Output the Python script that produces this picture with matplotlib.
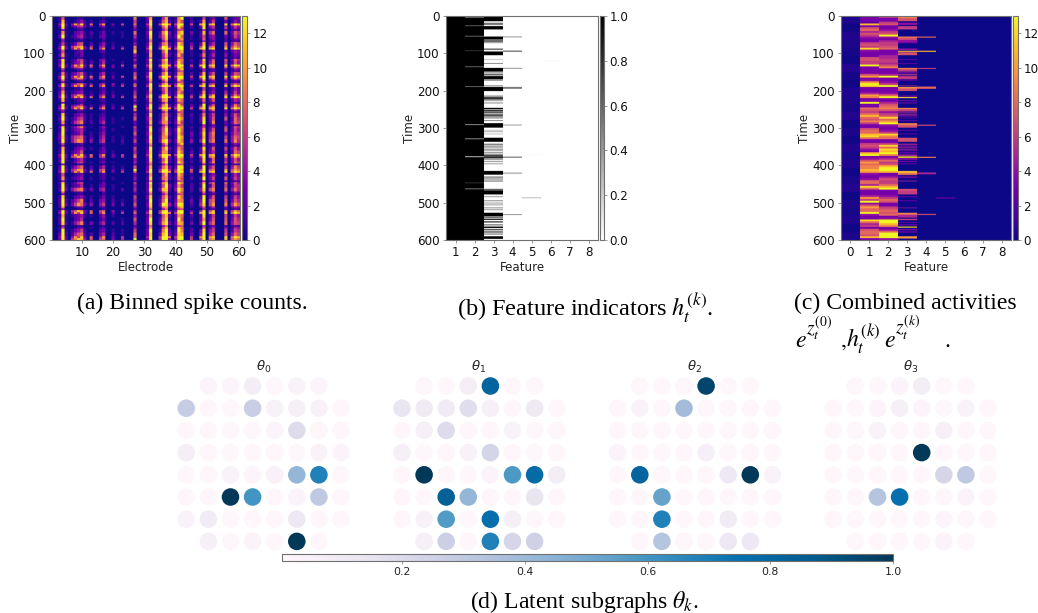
import matplotlib
matplotlib.use("Agg")
import matplotlib.pyplot as plt
import numpy as np
from matplotlib.cm import ScalarMappable
from matplotlib.colors import Normalize

W, H = 1038, 613
plt.rcParams['font.family'] = ['DejaVu Sans']
plt.rcParams['mathtext.fontset'] = 'dejavusans'

# ---------- panel (a): binned spike counts, 10 time-unit rows, base-14 digits
active_electrodes = [3,4,5, 7,8,9,10,11, 13, 16,17, 20, 23, 27, 31,32, 35,36,37,38,
                     40,41,42, 45, 48,49, 51,52, 56, 58,59,60]
spike_rows = [
 "170 00110 0 01 0 0 9 3a 05a1 19d 1 06 13 7 123",
 "1b1 01241 1 12 0 0 6 2c 17b2 2a7 2 2a 26 3 142",
 "2d2 23562 3 24 1 1 5 3b 18c3 3d9 2 3c 46 5 364",
 "1c1 01231 0 01 0 0 4 2a 06a1 2b6 1 2d 35 6 253",
 "1a1 02341 2 13 1 1 8 3d 29d3 2ac 3 2b 58 8 375",
 "2d1 12451 1 23 0 1 5 2c 37c2 3d8 1 27 34 3 264",
 "050 01120 0 02 0 0 3 1a 06b1 18a 1 18 24 2 132",
 "161 13670 2 24 1 0 4 2b 28a2 2c9 3 3b 35 7 486",
 "3d3 58ab3 6 45 2 3 9 3d 4dc4 4dd 5 6d 79 9 6a7",
 "170 01230 0 12 0 0 b 2a 07c1 19b 1 06 13 2 243",
 "2a1 01130 0 01 0 0 4 1b 05a2 2b6 1 29 25 4 132",
 "3d1 12561 1 34 1 0 5 3d 29d1 2a9 2 2c 37 7 385",
 "2c1 13471 2 25 0 1 3 2b 18b2 3c8 1 3a 48 6 274",
 "2d2 36792 5 36 3 2 6 3c 3ac3 3da 3 4d 69 8 486",
 "060 01230 0 12 0 0 2 1a 06a1 18c 1 15 12 2 143",
 "192 23572 1 35 1 0 6 3d 18c2 2a9 2 3b 47 6 376",
 "3d2 46993 5 57 2 1 8 3c 4bd3 3dc 3 5d 6a 8 5a7",
 "181 01230 0 01 0 0 3 2a 06b1 2b6 1 29 24 3 132",
 "2c2 35794 4 46 4 4 7 3d 39c3 4c9 2 4b 57 7 586",
 "160 01130 0 12 0 0 3 1c 16a1 18b 1 06 13 2 142",
 "2a1 12340 1 13 1 0 5 2a 05a2 2a7 1 2a 24 5 263",
 "3d2 46a92 3 46 3 2 6 4d 3cd3 3dc 4 5d 6b 9 496",
 "1b1 01231 0 12 0 0 4 2b 29b1 2a8 1 28 37 4 254",
 "1d1 12350 1 13 1 0 5 2c 28c2 3c6 2 2d 26 7 385",
 "3c2 46893 2 36 2 3 d 3d 3ac3 4da 3 5c 69 8 4a6",
 "250 01230 0 12 0 0 9 2a 08b1 2c8 1 27 48 3 253",
 "1c1 02341 1 12 0 0 5 2c 17a2 1a7 2 29 36 4 374",
 "2d2 13562 1 23 1 1 7 3a 18c1 2d9 1 3c 37 7 285",
 "1a1 25791 2 35 1 0 3 2b 39a2 3b6 1 2d 29 3 386",
 "2c1 24692 1 24 0 1 6 3c 16b1 1a9 2 26 24 6 275",
 "1d2 13451 0 13 1 0 5 2d 27d2 3d8 1 2a 37 7 264",
 "2d1 12350 1 24 0 0 7 3b 18c3 2c7 3 3c 59 3 365",
 "3c2 46782 2 35 1 1 4 2d 29a1 2da 2 2b 58 6 486",
 "2d2 47a92 4 46 1 2 6 3c 3bd3 3c9 4 4d 69 8 495",
 "170 01130 0 12 0 1 3 1a 06b1 18c 1 08 13 3 143",
 "1b1 02341 1 13 0 0 6 2d 18c2 2a7 1 2c 27 6 374",
 "1c1 13470 0 23 1 0 5 3c 29a1 2c8 2 2a 35 4 286",
 "3d3 68ba4 7 57 3 5 9 3d 4cd3 3db 4 5d 8a 9 5b8",
 "2d2 02451 0 12 0 0 4 2c 17c2 2a8 1 3c 28 5 374",
 "2d1 13561 1 23 1 0 5 3a 29d2 2d9 2 2b 49 7 386",
 "2d2 24681 2 35 1 1 7 3b 28b3 3dc 2 3d 47 6 496",
 "3d3 57ba3 4 68 3 4 d 3d 5cd5 5db 7 6d 79 a 7a8",
 "170 01230 0 12 0 0 3 1a 07b2 1b8 1 09 24 3 253",
 "1a1 12340 1 12 1 0 4 2c 18a2 2a7 2 2d 36 7 264",
 "2c1 13560 0 13 0 1 6 3d 29c1 2d9 1 3b 58 8 374",
 "1d2 12350 1 23 1 0 4 2b 17d3 3a6 2 2d 27 6 265",
 "2d3 46892 3 45 1 2 5 3d 3bc2 4d9 2 4c 69 8 485",
 "080 01120 0 02 0 0 3 2a 06a1 1b7 1 18 14 3 142",
 "1c1 02341 1 13 1 0 6 3c 17b2 2c8 1 2d 37 6 264",
 "2d2 24691 2 34 2 1 5 2d 28d1 3a9 3 4d 68 7 375",
 "2d3 36a83 4 46 3 3 7 3c 3dc4 4dc 2 5c 6a 9 5a7",
 "1a0 01230 0 12 0 0 4 2b 18a1 29b 1 27 25 3 243",
 "3d3 58ca3 7 68 4 3 6 3d 5cd3 3dd 3 5d 7b a 6b8",
 "1b1 12341 1 24 1 0 4 2a 17b2 2a8 2 2c 26 6 264",
 "2d1 02350 0 13 0 1 7 3d 28c1 2d7 1 3a 37 7 375",
 "2c2 14691 3 35 2 2 5 3c 3ad3 3ba 3 4d 58 8 476",
 "170 01230 1 12 0 0 4 2a 07b1 1c8 1 08 25 4 154",
 "1d1 13461 0 23 1 1 6 3d 19d2 2d9 2 3c 46 6 265",
 "3d2 25782 2 35 2 1 8 3c 3bd3 3cb 3 4d 58 7 486",
 "3d3 69cb4 7 68 3 5 d 3d 5dd4 4dd 6 6d 8a b 7a8",
]
burst_times = [20, 85, 130, 160, 185, 215, 245, 370, 415, 525, 590]
burst_pattern = "4d3 4a6c3 8 5a 3 6 8 5d 6dd9 6dd 6 ad ac c 8db"
quiet_times = [35, 65, 110, 145, 175, 230, 255, 290, 345, 395, 440, 475, 515, 560]
quiet_pattern = "040 00110 0 01 0 0 2 18 0480 167 0 05 12 2 121"

# ---------- panel (b): feature indicators as (start, end, value) on white
feature_1_on = [(0, 600, 1.0)]
feature_2_gaps = [(1, 4, .25), (25, 27, .55), (53, 55, .5), (92, 94, .75), (135, 137, .5),
                  (188, 190, .5), (290, 292, .3), (328, 330, .3), (376, 378, .05),
                  (446, 448, .75), (462, 464, .4)]
feature_3_on = [(2,14,1),(18,24,.55),(27,36,1),(55,63,1),(64,70,.6),(70,73,.3),(87,91,.6),
                (95,105,1),(115,118,.2),(126,128,.6),(139,149,1),(151,154,.5),(156,159,.8),
                (161,169,1),(170,173,.6),(186,188,.6),(190,201,1),(213,216,.5),(217,224,.8),
                (226,228,.5),(232,234,.6),(246,250,1),(252,256,.9),(258,260,1),(262,264,1),
                (266,269,1),(272,274,.8),(279,281,.6),(287,299,1),(305,307,.3),(309,311,.4),
                (315,317,.3),(326,337,1),(342,345,.6),(347,350,.5),(352,354,.5),(356,358,.6),
                (360,362,.5),(365,368,.5),(371,375,.8),(376,380,1),(381,385,.5),(388,391,.4),
                (395,397,.5),(415,425,1),(430,433,.6),(435,438,.5),(441,443,.8),(463,466,.7),
                (467,478,1),(483,485,.5),(494,496,.6),(500,502,.5),(505,507,.5),(513,515,.6),
                (518,520,.5),(527,537,1),(539,541,.8),(543,546,1),(550,553,.9),(558,561,.6),
                (564,568,1),(571,574,.8),(577,580,.8),(583,585,.8),(590,597,1)]
feature_4_on = [(55,57,.55),(93,95,1),(139,141,.55),(190,195,.55),(291,293,.5),(377,379,.85),
                (419,423,.3),(531,533,.55)]
feature_5_on = [(486,488,.35),(371,373,.03)]
feature_6_on = [(119,121,.03)]

# ---------- panel (c): combined activities, 5 time-unit rows for features 1, 2
activity_0 = "3143215214325131424135132413"
activity_1 = ("3332b37857" "64336 76c43" "33776 6d333" "37a34 adc33" "35a93 3d338" "768b8 79633"
              "7 88bc8 3367" "64 3bd34 7a8" "99ba4 33488" "5c833 35a6d" "47a88 d433c" "8563 7 887b3")
activity_2 = ("6336733467" "d4356 67833" "35566 57933" "35d33 46d33" "348d3 35789" "74 67c8a d43"
              "3 46c98 336c" "8cbd9 35867" "bddb3 35766" "8bd33 34687" "33678 7834d" "db934 8ddd4")
activity_3_on = [(2,6,9),(6,14,7),(18,24,4),(27,36,6),(55,58,9),(58,64,7),(64,70,4),(70,73,3),
                 (87,91,4),(93,96,11),(97,105,7),(115,118,2),(126,128,3),(139,143,9),(143,149,6),
                 (151,154,4),(156,159,6),(161,169,6),(170,173,3),(186,188,5),(190,194,10),
                 (194,201,7),(213,216,3),(217,220,12),(226,228,4),(232,234,4),(246,250,9),
                 (250,256,6),(258,260,5),(262,264,6),(266,269,4),(272,274,3),(279,281,3),
                 (287,292,9),(292,299,7),(305,307,3),(315,317,3),(326,337,7),(342,345,5),
                 (347,350,4),(352,354,5),(356,358,5),(360,362,4),(365,368,3),(371,375,5),
                 (376,380,12),(381,385,4),(388,391,3),(395,397,3),(415,421,11),(421,426,8),
                 (430,433,4),(441,443,5),(463,468,7),(468,478,6),(483,485,3),(494,496,3),
                 (513,515,4),(527,532,9),(532,540,5),(543,547,6),(552,554,3),(558,561,3),
                 (564,567,12),(571,574,4),(577,580,3),(590,596,10)]
activity_4_on = [(55,58,8),(93,96,11),(139,142,6),(189,195,8),(291,294,7),(377,380,9),(419,424,5),(530,533,7)]
activity_5_on = [(486,489,2.5)]

# ---------- panel (d): latent subgraphs on the 8x8 electrode layout
n = np.nan
theta_0 = [[n,.02,.02,.08,.01,.04,.02,n],[.28,.01,.01,.27,.05,.06,.05,.01],
           [.01,.01,.01,.01,.02,.19,.01,.01],[.07,.01,.01,.01,.01,.01,.04,.03],
           [.01,.01,.04,.02,.05,.42,.68,.01],[.01,.01,1.0,.6,.01,.03,.3,.01],
           [.04,.09,.01,.01,.01,.12,.01,.01],[n,.06,.01,.03,.01,1.0,.01,n]]
theta_1 = [[n,.01,.01,.07,.82,.01,.01,n],[.14,.1,.09,.18,.06,.01,.11,.01],
           [.01,.06,.19,.01,.01,.04,.01,.01],[.06,.01,.01,.05,.23,.01,.01,.01],
           [.01,1.0,.01,.01,.03,.58,.78,.08],[.01,.01,.84,.42,.01,.01,.14,.01],
           [.01,.05,.57,.01,.76,.06,.01,.01],[n,.06,.26,.01,.68,.22,.25,n]]
theta_2 = [[n,.01,.01,.01,.95,.01,.01,n],[.01,.04,.01,.38,.01,.01,.01,.01],
           [.01,.01,.01,.01,.01,.01,.01,.01],[.03,.01,.01,.01,.06,.01,.01,.01],
           [.01,.82,.01,.01,.01,.12,1.0,.04],[.01,.01,.53,.01,.01,.01,.01,.01],
           [.01,.01,.68,.01,.01,.09,.01,.01],[n,.01,.33,.01,.01,.12,.12,n]]
theta_3 = [[n,.01,.01,.03,.08,.01,.01,n],[.01,.01,.02,.06,.02,.01,.04,.01],
           [.01,.01,.04,.01,.01,.06,.01,.01],[.01,.01,.01,.01,1.0,.01,.01,.01],
           [.01,.01,.01,.01,.01,.22,.3,.01],[.01,.01,.33,.75,.01,.01,.03,.01],
           [.01,.01,.01,.01,.01,.02,.01,.01],[n,.01,.01,.01,.01,.03,.01,n]]
theta_titles = [r'$\theta_0$', r'$\theta_1$', r'$\theta_2$', r'$\theta_3$']
theta_ticks = [0.2, 0.4, 0.6, 0.8, 1.0]

SPINE = '#707070'
FS = 8.6

fig = plt.figure(figsize=(W / 100, H / 100), dpi=100)

def box(x0, y0, x1, y1):
    return fig.add_axes([x0 / W, 1 - y1 / H, (x1 - x0) / W, (y1 - y0) / H])

def style(ax, size=FS, pad=2):
    for s in ax.spines.values():
        s.set_color(SPINE)
        s.set_linewidth(0.8)
    ax.tick_params(labelsize=size, length=2.5, width=0.5, color=SPINE, pad=pad, labelcolor='#111111')

def parse(s):
    return [int(c, 14) for c in s.replace(" ", "")]

def paint(col, segments):
    for a, b, v in segments:
        col[a:b] = v

def heat(px, data, extent, cmap, vmax, xticks, xlabel, cticks):
    ax = box(*px[0])
    im = ax.imshow(data, aspect='auto', cmap=cmap, vmin=0, vmax=vmax, extent=extent,
                   interpolation='antialiased')
    ax.set_xticks(xticks)
    ax.set_yticks(range(0, 601, 100))
    ax.set_ylim(600, 0)
    ax.set_xlabel(xlabel, fontsize=FS, labelpad=1, color='#222222')
    ax.set_ylabel('Time', fontsize=FS, labelpad=0.5, color='#222222')
    style(ax)
    cax = box(*px[1])
    cb = fig.colorbar(im, cax=cax)
    cb.set_ticks(cticks)
    cb.outline.set_edgecolor(SPINE)
    cb.outline.set_linewidth(0.8)
    style(cax, pad=1.5)
    return ax

# panel (a)
coarse = np.array([parse(r) for r in spike_rows], dtype=float)
spikes = np.zeros((120, 60))
cols = np.array(active_electrodes) - 1
for i, row in enumerate(coarse):
    spikes[2 * i:2 * i + 2, cols] = row
for t in quiet_times:
    spikes[t // 5, cols] = parse(quiet_pattern)
for t in burst_times:
    spikes[t // 5, cols] = parse(burst_pattern)
heat([(52, 16, 240, 240), (242, 16, 247, 240)], np.repeat(np.repeat(spikes, 5, axis=0), 4, axis=1),
     [0.5, 60.5, 600, 0], 'plasma', 13, range(10, 61, 10), 'Electrode', range(0, 13, 2))

# panel (b)
indicators = np.zeros((600, 8))
paint(indicators[:, 0], feature_1_on)
indicators[:, 1] = 1.0
paint(indicators[:, 1], feature_2_gaps)
paint(indicators[:, 2], feature_3_on)
paint(indicators[:, 3], feature_4_on)
paint(indicators[:, 4], feature_5_on)
paint(indicators[:, 5], feature_6_on)
heat([(446, 16, 598, 240), (599.5, 16, 604, 240)], np.repeat(indicators, 24, axis=1),
     [0.5, 8.5, 600, 0], 'gray_r', 1, range(1, 9), 'Feature', np.arange(0, 1.01, .2))

# panel (c)
combined = np.zeros((600, 9))
level = [int(c) / 10 for c in activity_0]
for i, v in enumerate(level):
    combined[i * 600 // len(level):(i + 1) * 600 // len(level), 0] = v
for col, string in ((1, activity_1), (2, activity_2)):
    vals = parse(string)
    for i, v in enumerate(vals):
        combined[i * 5:(i + 1) * 5, col] = v
paint(combined[:, 3], activity_3_on)
paint(combined[:, 4], activity_4_on)
paint(combined[:, 5], activity_5_on)
heat([(841, 16, 1011, 240), (1013, 16, 1018, 240)], np.repeat(combined, 24, axis=1),
     [-0.5, 8.5, 600, 0], 'plasma', 13, range(0, 9), 'Feature', range(0, 13, 2))

# panel (d)
norm = Normalize(0, 1)
for k, (theta, x0, title) in enumerate(zip((theta_0, theta_1, theta_2, theta_3),
                                           (186.3, 402.0, 617.7, 833.3), theta_titles)):
    ax = box(x0 - 11.05, 386 - 11.1, x0 - 11.05 + 8 * 22.1, 386 - 11.1 + 8 * 22.2)
    values = np.array(theta)
    rows, cs = np.where(~np.isnan(values))
    ax.scatter(cs, rows, c=values[rows, cs], cmap='PuBu', norm=norm, s=160,
               linewidths=0, clip_on=False)
    ax.set_xlim(-0.5, 7.5)
    ax.set_ylim(7.5, -0.5)
    ax.axis('off')
    fig.text((x0 + 77) / W, 1 - 367 / H, title, fontsize=9.5, ha='center', va='center', color='#222222')

cax = box(281.5, 554, 893, 561)
cb = fig.colorbar(ScalarMappable(norm=Normalize(0.003, 1), cmap='PuBu'), cax=cax, orientation='horizontal')
cb.set_ticks(theta_ticks)
cb.outline.set_edgecolor(SPINE)
cb.outline.set_linewidth(0.8)
cax.tick_params(labelsize=7.8, length=2.5, width=0.5, color=SPINE, pad=2, labelcolor='#222222')

# captions
def caption(x, y, s, ha='left', size=17.1):
    fig.text(x / W, 1 - y / H, s, ha=ha, va='baseline', fontsize=size, family='Liberation Serif',
             math_fontfamily='stix', color='black')

caption(77, 309, '(a) Binned spike counts.')
caption(457, 316, r'(b) Feature indicators $h_t^{(k)}$.', size=17.5)
caption(794, 309, '(c) Combined activities')
caption(795, 347, r'$e$')
caption(806, 335, r'$z_t^{(0)}$', size=14)
caption(840, 347, r'$,$')
caption(846, 347, r'$h_t^{(k)}$')
caption(884, 347, r'$e$')
caption(895, 335, r'$z_t^{(k)}$', size=14)
caption(944, 347, '.')
caption(470, 608, r'(d) Latent subgraphs $\theta_k$.')

fig.savefig('out.png', dpi=100)
